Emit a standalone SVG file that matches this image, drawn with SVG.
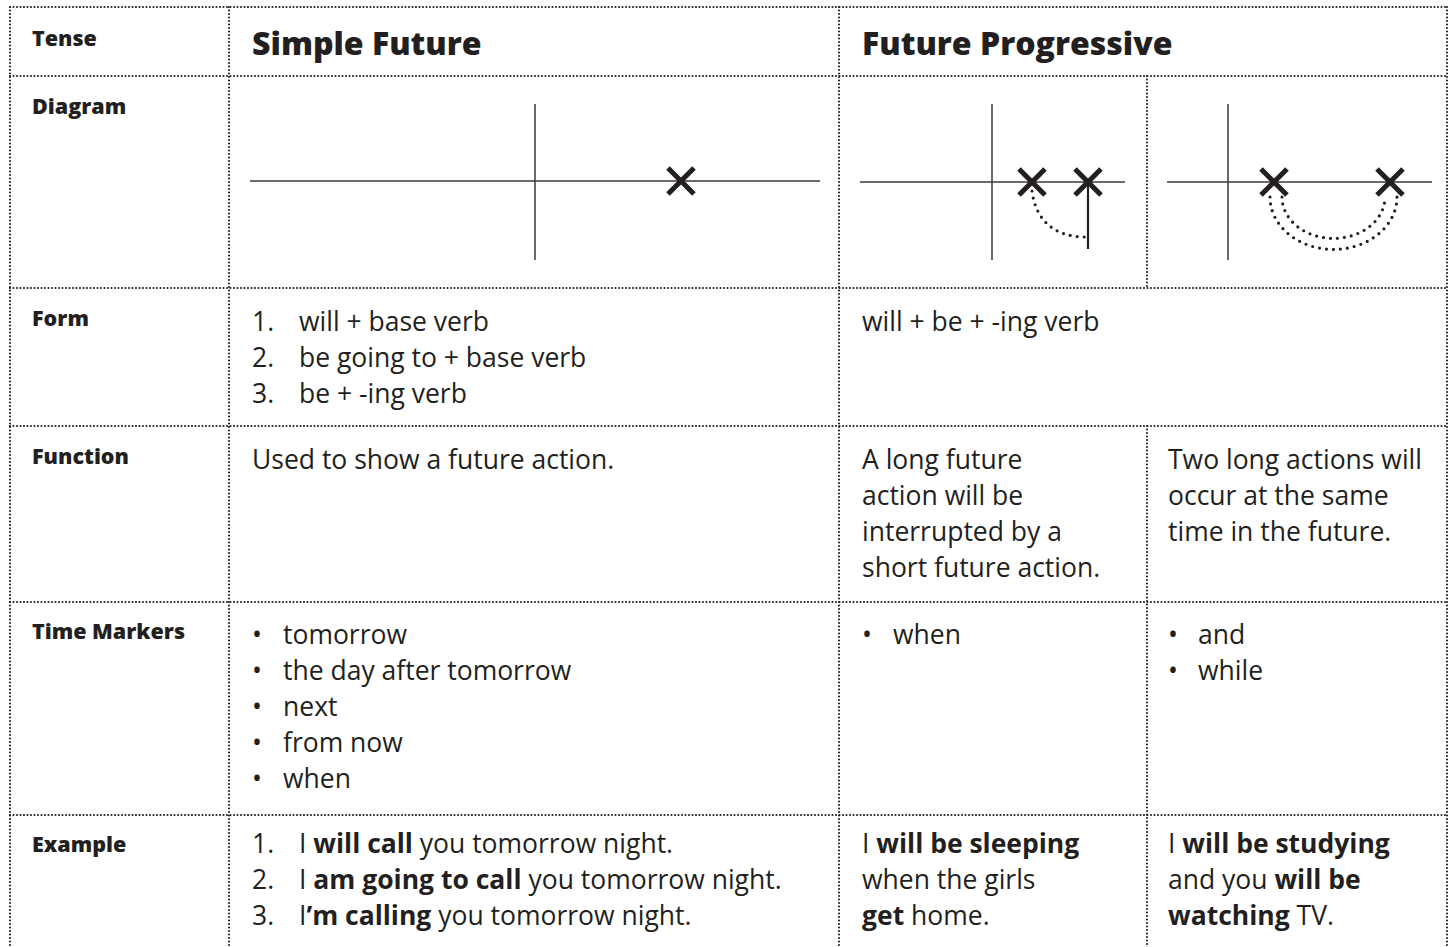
<svg xmlns="http://www.w3.org/2000/svg" width="1454" height="947" viewBox="0 0 1454 947">
<style>
.grid line { stroke:#231f20; stroke-width:2.1; stroke-dasharray:0 3.5; stroke-linecap:round; fill:none }
.lbl { font-family:"Open Sans","Liberation Sans",sans-serif; font-weight:800; font-size:21.5px; fill:#231f20 }
.hd { font-family:"Open Sans","Liberation Sans",sans-serif; font-weight:800; font-size:32px; fill:#231f20 }
.t { font-family:"Open Sans","Liberation Sans",sans-serif; font-weight:400; font-size:26.5px; fill:#231f20 }
.t .b { font-weight:700 }
.axis { stroke:#3a3a3a; stroke-width:1.5; fill:none }
.x { stroke:#231f20; stroke-width:5; fill:none }
.dots { stroke:#231f20; stroke-width:3.2; stroke-dasharray:0 7; stroke-linecap:round; fill:none }
</style>
<rect width="1454" height="947" fill="#ffffff"/>
<g id="grid" class="grid">
<line x1="10" y1="7" x2="1447" y2="7"/>
<line x1="10" y1="76" x2="1447" y2="76"/>
<line x1="10" y1="288" x2="1447" y2="288"/>
<line x1="10" y1="426" x2="1447" y2="426"/>
<line x1="10" y1="602" x2="1447" y2="602"/>
<line x1="10" y1="815" x2="1447" y2="815"/>
<line x1="10" y1="7" x2="10" y2="950"/>
<line x1="229" y1="7" x2="229" y2="950"/>
<line x1="839" y1="7" x2="839" y2="950"/>
<line x1="1447" y1="7" x2="1447" y2="950"/>
<line x1="1147" y1="76" x2="1147" y2="288"/>
<line x1="1147" y1="426" x2="1147" y2="950"/>
</g>
<g id="labels">
<text class="lbl" x="32" y="46">Tense</text>
<text class="lbl" x="32" y="114">Diagram</text>
<text class="lbl" x="32" y="326">Form</text>
<text class="lbl" x="32" y="464">Function</text>
<text class="lbl" x="32" y="639">Time Markers</text>
<text class="lbl" x="32" y="852">Example</text>
</g>
<g id="headers">
<text class="hd" x="252" y="55">Simple Future</text>
<text class="hd" x="862" y="55">Future Progressive</text>
</g>
<g id="diagram-simple">
<line class="axis" x1="250" y1="181" x2="820" y2="181"/>
<line class="axis" x1="535" y1="104" x2="535" y2="260"/>
<path class="x" d="M668,168 L694,194 M694,168 L668,194"/>
</g>
<g id="diagram-fp1">
<line class="axis" x1="860" y1="182" x2="1125" y2="182"/>
<line class="axis" x1="992" y1="104" x2="992" y2="260"/>
<path class="x" d="M1019,169 L1045,195 M1045,169 L1019,195"/>
<path class="x" d="M1075,169 L1101,195 M1101,169 L1075,195"/>
<line x1="1088" y1="182" x2="1088" y2="249" stroke="#231f20" stroke-width="2.2"/>
<path class="dots" d="M1032,191 C1036,222 1056,237 1086,237"/>
</g>
<g id="diagram-fp2">
<line class="axis" x1="1167" y1="182" x2="1432" y2="182"/>
<line class="axis" x1="1228" y1="104" x2="1228" y2="260"/>
<path class="x" d="M1261,169 L1287,195 M1287,169 L1261,195"/>
<path class="x" d="M1377,169 L1403,195 M1403,169 L1377,195"/>
<path class="dots" d="M1270,197 A63,52 0 0 0 1397,197"/>
<path class="dots" d="M1282,197 A51,41 0 0 0 1385,197"/>
</g>
<g id="form">
<text class="t" x="252" y="331">1.</text><text class="t" x="299" y="331">will + base verb</text>
<text class="t" x="252" y="367">2.</text><text class="t" x="299" y="367">be going to + base verb</text>
<text class="t" x="252" y="403">3.</text><text class="t" x="299" y="403">be + -ing verb</text>
<text class="t" x="862" y="331">will + be + -ing verb</text>
</g>
<g id="function">
<text class="t" x="252" y="469">Used to show a future action.</text>
<text class="t" x="862" y="469">A long future</text>
<text class="t" x="862" y="505">action will be</text>
<text class="t" x="862" y="541">interrupted by a</text>
<text class="t" x="862" y="577">short future action.</text>
<text class="t" x="1168" y="469">Two long actions will</text>
<text class="t" x="1168" y="505">occur at the same</text>
<text class="t" x="1168" y="541">time in the future.</text>
</g>
<g id="time-markers">
<text class="t" x="252" y="644">•</text><text class="t" x="283" y="644">tomorrow</text>
<text class="t" x="252" y="680">•</text><text class="t" x="283" y="680">the day after tomorrow</text>
<text class="t" x="252" y="716">•</text><text class="t" x="283" y="716">next</text>
<text class="t" x="252" y="752">•</text><text class="t" x="283" y="752">from now</text>
<text class="t" x="252" y="788">•</text><text class="t" x="283" y="788">when</text>
<text class="t" x="862" y="644">•</text><text class="t" x="893" y="644">when</text>
<text class="t" x="1168" y="644">•</text><text class="t" x="1198" y="644">and</text>
<text class="t" x="1168" y="680">•</text><text class="t" x="1198" y="680">while</text>
</g>
<g id="example">
<text class="t" x="252" y="853">1.</text><text class="t" x="299" y="853">I <tspan class="b">will call</tspan> you tomorrow night.</text>
<text class="t" x="252" y="889">2.</text><text class="t" x="299" y="889">I <tspan class="b">am going to call</tspan> you tomorrow night.</text>
<text class="t" x="252" y="925">3.</text><text class="t" x="299" y="925">I<tspan class="b">’m calling</tspan> you tomorrow night.</text>
<text class="t" x="862" y="853">I <tspan class="b">will be sleeping</tspan></text>
<text class="t" x="862" y="889">when the girls</text>
<text class="t" x="862" y="925"><tspan class="b">get</tspan> home.</text>
<text class="t" x="1168" y="853">I <tspan class="b">will be studying</tspan></text>
<text class="t" x="1168" y="889">and you <tspan class="b">will be</tspan></text>
<text class="t" x="1168" y="925"><tspan class="b">watching</tspan> TV.</text>
</g>
</svg>
